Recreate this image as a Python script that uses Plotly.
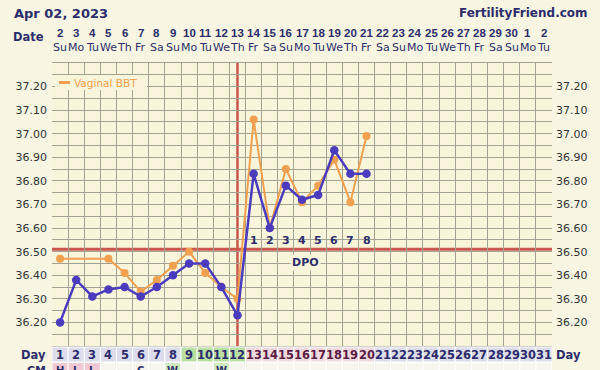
import plotly.graph_objects as go

# ---------------- data ----------------
days = list(range(1, 32))
date_labels = [str(d) for d in range(2, 31)] + ["1", "2"]
weekday_labels = (["Su", "Mo", "Tu", "We", "Th", "Fr", "Sa"] * 5)[:31]

bbt_days = list(range(1, 21))
bbt_temps = [36.20, 36.38, 36.31, 36.34, 36.35, 36.31, 36.35, 36.40, 36.45, 36.45,
             36.35, 36.23, 36.83, 36.60, 36.78, 36.72, 36.74, 36.93, 36.83, 36.83]

vag_days = [1, 4, 5, 6, 7, 8, 9, 10, 11, 12, 13, 14, 15, 16, 17, 18, 19, 20]
vag_temps = [36.47, 36.47, 36.41, 36.33, 36.38, 36.44, 36.50, 36.41, 36.35, 36.30,
             37.06, 36.60, 36.85, 36.71, 36.78, 36.89, 36.71, 36.99]

coverline = 36.51
ovulation_day = 12
dpo_days = list(range(13, 21))
dpo_labels = [str(i) for i in range(1, 9)]

y_ticks = [36.20, 36.30, 36.40, 36.50, 36.60, 36.70, 36.80, 36.90, 37.00, 37.10, 37.20]

cm_days = [1, 2, 3, 6, 8, 11]
cm_labels = ["H", "L", "L", "C", "W", "W"]

# ---------------- style ----------------
NAVY = "#2d2d6b"
BLUE = "#4b3cbd"
ORANGE = "#f0a04e"
RED = "#c9574d"
PLOT_BG = "#f8f5da"
PAPER_BG = "#f8f6e3"
GRID = "#a3a394"
FONT = "DejaVu Sans"
NARROW = "Liberation Sans"

T, B, H = 63, 24, 370
PH = H - T - B


def py(Y):
    """pixel row (from top) -> paper y"""
    return (H - B - Y) / PH


fig = go.Figure()

fig.add_trace(go.Scatter(x=vag_days, y=vag_temps, mode="lines+markers", name="Vaginal BBT",
                         line=dict(color=ORANGE, width=2),
                         marker=dict(color=ORANGE, size=8), showlegend=False))
fig.add_trace(go.Scatter(x=bbt_days, y=bbt_temps, mode="lines+markers", name="BBT",
                         line=dict(color=BLUE, width=2.5),
                         marker=dict(color=BLUE, size=8.5), showlegend=False))
# invisible trace to activate right axis
fig.add_trace(go.Scatter(x=[None], y=[None], yaxis="y2", showlegend=False, hoverinfo="skip"))

shapes = []
# coverline and ovulation line
shapes.append(dict(type="line", xref="x", yref="y", x0=0.5, x1=31.5, y0=coverline, y1=coverline,
                   line=dict(color=RED, width=3), layer="below"))
shapes.append(dict(type="line", xref="x", yref="paper", x0=ovulation_day, x1=ovulation_day, y0=0, y1=1,
                   line=dict(color=RED, width=2.5), layer="below"))

# legend box
shapes.append(dict(type="rect", xref="paper", yref="paper", x0=(55 - 52) / 500, x1=(147 - 52) / 500,
                   y0=py(90), y1=py(75), fillcolor=PLOT_BG, line=dict(width=0), layer="above"))
shapes.append(dict(type="line", xref="paper", yref="paper", x0=(59 - 52) / 500, x1=(70 - 52) / 500,
                   y0=py(82.5), y1=py(82.5), line=dict(color=ORANGE, width=3), layer="above"))

annotations = []
annotations.append(dict(text="Vaginal BBT", xref="paper", yref="paper", x=(72 - 52) / 500, y=py(82.5),
                        xanchor="left", yanchor="middle", showarrow=False,
                        font=dict(family=FONT, size=10.5, color=ORANGE)))

# Day row and CM row cells
for d in days:
    if 9 <= d <= 12:
        fc, tc = "#b9e0a2", NAVY
    elif 13 <= d <= 20:
        fc, tc = "#eed9de", "#5a1d45"
    else:
        fc, tc = "#dcdcec", NAVY
    shapes.append(dict(type="rect", xref="x", yref="paper", x0=d - 0.5, x1=d + 0.5,
                       y0=py(362), y1=py(347), fillcolor=fc, line=dict(color="white", width=1)))
    annotations.append(dict(text="<b>%d</b>" % d, x=d, xref="x", yref="paper", y=py(355),
                            yanchor="middle", showarrow=False,
                            font=dict(family=FONT, size=11.5, color=tc)))
    if d <= 3:
        cfc = "#f1c9d3"
    elif d in (8, 11):
        cfc = "#cfe9bf"
    else:
        cfc = "#f6f5ee"
    shapes.append(dict(type="rect", xref="x", yref="paper", x0=d - 0.5, x1=d + 0.5,
                       y0=py(380), y1=py(362.5), fillcolor=cfc, line=dict(color="white", width=1)))

for d, lab in zip(cm_days, cm_labels):
    annotations.append(dict(text="<b>%s</b>" % lab, x=d, xref="x", yref="paper", y=py(370),
                            yanchor="middle", showarrow=False,
                            font=dict(family=FONT, size=10, color=NAVY)))

annotations.append(dict(text="<b>CM</b>", xref="paper", yref="paper", x=-4 / 500, y=py(370),
                        xanchor="right", yanchor="middle", showarrow=False,
                        font=dict(family=FONT, size=11, color=NAVY)))
annotations.append(dict(text="<b>Day</b>", xref="paper", yref="paper", x=-4 / 500, y=py(355),
                        xanchor="right", yanchor="middle", showarrow=False,
                        font=dict(family=FONT, size=11.5, color=NAVY)))
annotations.append(dict(text="<b>Day</b>", xref="paper", yref="paper", x=1 + 2 / 500, y=py(355),
                        xanchor="left", yanchor="middle", showarrow=False,
                        font=dict(family=FONT, size=11.5, color=NAVY)))

# header: date numbers and weekdays
for d, lab, wd in zip(days, date_labels, weekday_labels):
    annotations.append(dict(text="<b>%s</b>" % lab, x=d, xref="x", yref="paper", y=py(33),
                            yanchor="middle", showarrow=False,
                            font=dict(family=NARROW, size=11.5, color=NAVY)))
    annotations.append(dict(text=wd, x=d, xref="x", yref="paper", y=py(47),
                            yanchor="middle", showarrow=False,
                            font=dict(family=FONT, size=11, color=NAVY)))

annotations.append(dict(text="<b>Date</b>", xref="paper", yref="paper", x=-6 / 500, y=py(37),
                        xanchor="right", yanchor="middle", showarrow=False,
                        font=dict(family=FONT, size=11.5, color=NAVY)))
annotations.append(dict(text="<b>Apr 02, 2023</b>", xref="paper", yref="paper", x=-40 / 500, y=py(13),
                        xanchor="left", yanchor="middle", showarrow=False,
                        font=dict(family=FONT, size=13, color=NAVY)))
annotations.append(dict(text="<b>FertilityFriend.com</b>", xref="paper", yref="paper", x=1 + 38 / 500,
                        y=py(13), xanchor="right", yanchor="middle", showarrow=False,
                        font=dict(family=FONT, size=12, color=NAVY)))

# DPO labels
for d, lab in zip(dpo_days, dpo_labels):
    annotations.append(dict(text="<b>%s</b>" % lab, x=d, xref="x", yref="paper", y=py(240),
                            yanchor="middle", showarrow=False,
                            font=dict(family=FONT, size=11, color=NAVY)))
annotations.append(dict(text="<b>DPO</b>", x=16.2, xref="x", yref="paper", y=py(262),
                        yanchor="middle", showarrow=False, bgcolor=PLOT_BG,
                        font=dict(family=FONT, size=11, color=NAVY)))

grid_vals = [round(36.10 + 0.05 * i, 2) for i in range(25)]
tick_text = ["%.2f" % v if any(abs(v - t) < 1e-6 for t in y_ticks) else "" for v in grid_vals]

yaxis_common = dict(range=[36.10, 37.30], tickvals=grid_vals, ticktext=tick_text,
                    showgrid=True, gridcolor=GRID, gridwidth=1, zeroline=False,
                    ticks="", tickfont=dict(family=FONT, size=11, color="#333333"),
                    fixedrange=True)

fig.update_layout(
    width=600, height=370,
    margin=dict(l=52, r=48, t=T, b=B, pad=0),
    paper_bgcolor=PAPER_BG, plot_bgcolor=PLOT_BG,
    xaxis=dict(range=[0.5, 31.5], tick0=0.5, dtick=1, showticklabels=False, showgrid=True,
               gridcolor=GRID, gridwidth=1, zeroline=False, ticks="", showline=True,
               linecolor=GRID, mirror=True),
    yaxis=dict(**yaxis_common, side="left", ticklabelstandoff=4),
    yaxis2=dict(**yaxis_common, side="right", overlaying="y", ticklabelstandoff=3),
    shapes=shapes, annotations=annotations, showlegend=False,
)

fig.write_html("out.html")
